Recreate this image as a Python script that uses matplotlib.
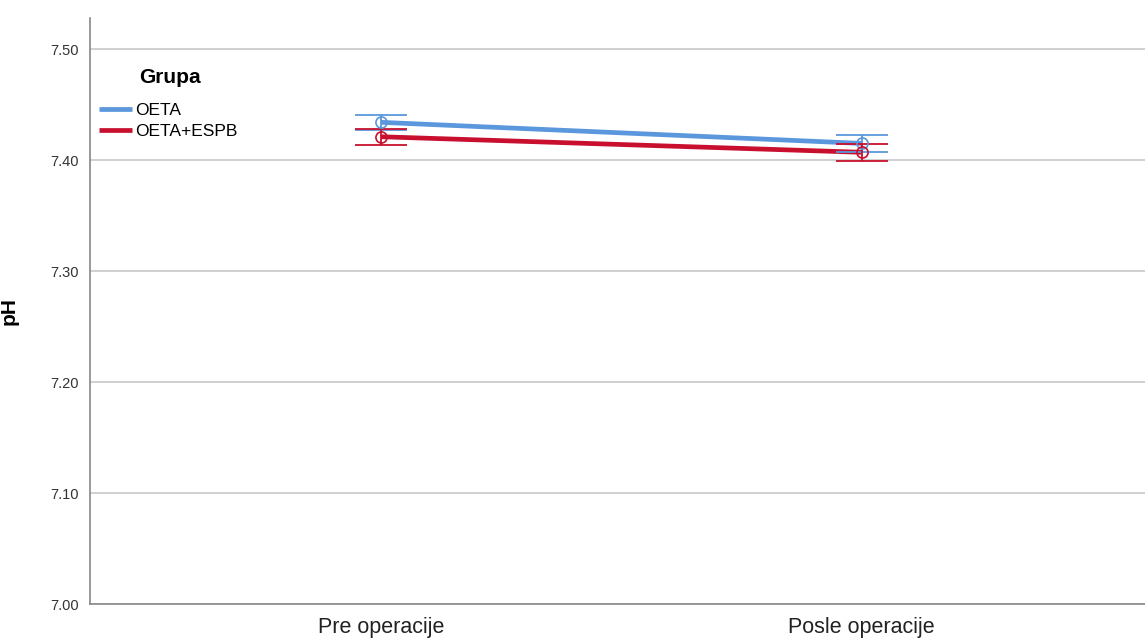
import matplotlib
matplotlib.use("Agg")
import matplotlib.pyplot as plt
import numpy as np

plt.rcParams['font.family'] = ['Liberation Sans', 'DejaVu Sans']

categories = ["Pre operacije", "Posle operacije"]
groups = ["OETA", "OETA+ESPB"]
means = {
    "OETA": [7.434, 7.415],
    "OETA+ESPB": [7.421, 7.407],
}
ci_low = {
    "OETA": [7.427, 7.407],
    "OETA+ESPB": [7.414, 7.399],
}
ci_high = {
    "OETA": [7.441, 7.4225],
    "OETA+ESPB": [7.428, 7.4145],
}
colors = {"OETA": "#5b97dc", "OETA+ESPB": "#c8102e"}
y_ticks = [7.00, 7.10, 7.20, 7.30, 7.40, 7.50]

fig = plt.figure(figsize=(11.45, 6.39), dpi=100)
ax = fig.add_axes([90 / 1145, 35 / 639, 1 - 90 / 1145, (604 - 18) / 639])

x = np.arange(len(categories))
for g in groups:
    c = colors[g]
    m = np.array(means[g])
    lo = np.array(ci_low[g])
    hi = np.array(ci_high[g])
    ax.plot(x, m, color=c, lw=3.4, solid_capstyle='butt', zorder=3, label=g)
    ax.errorbar(x, m, yerr=[m - lo, hi - m], fmt='none', ecolor=c,
                elinewidth=1.3, capsize=19, capthick=1.3, zorder=4)
    ax.plot(x, m, 'o', mfc='none', mec=c, ms=8, mew=1.2, zorder=5)

ax.set_xlim(-0.606, 1.59)
ax.set_ylim(7.0, 7.528)
ax.set_xticks(x)
ax.set_xticklabels(categories, fontsize=15.5, color='#222222')
ax.set_yticks(y_ticks)
ax.set_yticklabels([f"{v:.2f}" for v in y_ticks], fontsize=10.5, color='#333333')
ax.tick_params(axis='both', length=0)
ax.tick_params(axis='y', pad=8)
ax.tick_params(axis='x', pad=9)
ax.yaxis.grid(True, color='#c8c8c8', lw=1.2)
ax.set_axisbelow(True)
for s in ['top', 'right']:
    ax.spines[s].set_visible(False)
ax.spines['left'].set_color('#888888')
ax.spines['bottom'].set_color('#888888')
ax.spines['left'].set_linewidth(1.2)
ax.spines['bottom'].set_linewidth(1.2)

ax.set_ylabel("pH", fontsize=15, fontweight='bold')
ax.yaxis.set_label_coords(-0.068, 0.5)

leg = ax.legend(loc='upper left', bbox_to_anchor=(-0.003, 0.935), frameon=False,
                title="Grupa", fontsize=12.5, handlelength=1.9, handletextpad=0.2,
                labelspacing=0.38, borderaxespad=0.3)
leg.get_title().set_fontweight('bold')
leg.get_title().set_fontsize(15)
leg._legend_box.align = "left"
leg._legend_box.sep = 11
leg.get_title().set_position((40, 0))

fig.savefig("out.png", dpi=100)
